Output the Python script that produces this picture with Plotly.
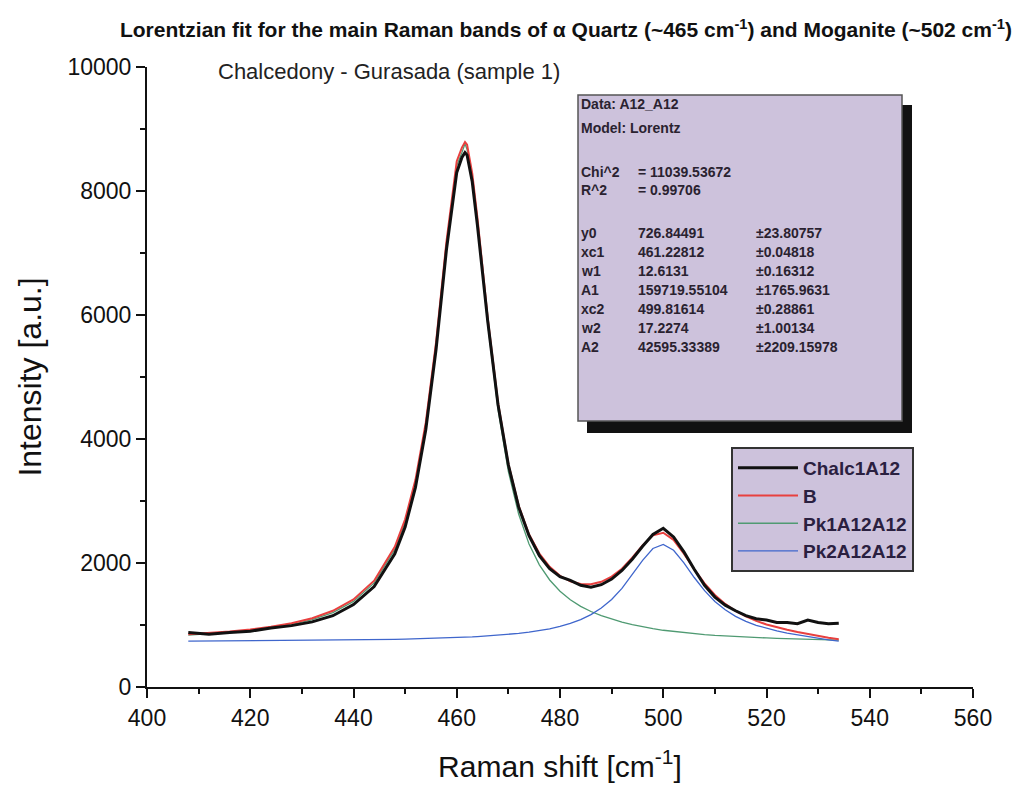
import plotly.graph_objects as go

# ---- data ----
raman_shift = [408, 412, 416, 420, 424, 428, 432, 436, 440, 444, 448, 450, 452, 454, 456, 458,
               460, 461, 461.6, 462, 463, 464, 466, 468, 470, 472, 474, 476, 478, 480, 482, 484, 486,
               488, 490, 492, 494, 496, 498, 500, 502, 504, 506, 508, 510, 512, 514, 516, 518,
               520, 522, 524, 526, 528, 530, 532, 534]

chalc1a12 = [880, 850, 880, 900, 950, 990, 1050, 1150, 1330, 1620, 2150, 2580, 3220, 4150, 5450, 7050,
             8300, 8540, 8620, 8580, 8150, 7450, 5900, 4550, 3580, 2900, 2440, 2120, 1910, 1780, 1720, 1640, 1610,
             1650, 1740, 1880, 2060, 2270, 2460, 2560, 2420, 2180, 1900, 1640, 1450, 1320, 1230, 1150, 1100,
             1080, 1040, 1040, 1020, 1080, 1040, 1020, 1030]

b_fit = [851, 872, 897, 929, 972, 1029, 1110, 1229, 1412, 1715, 2261, 2705, 3341, 4264, 5561, 7178,
         8480, 8700, 8790, 8746, 8282, 7570, 5951, 4580, 3595, 2922, 2464, 2152, 1938, 1794, 1705, 1661, 1658,
         1697, 1780, 1908, 2085, 2285, 2447, 2488, 2374, 2149, 1899, 1672, 1485, 1340, 1226, 1138, 1066,
         1009, 963, 922, 887, 852, 823, 794, 770]

pk1 = [838, 857, 881, 911, 952, 1007, 1085, 1201, 1380, 1679, 2219, 2660, 3292, 4210, 5503, 7114,
       8410, 8620, 8760, 8669, 8201, 7484, 5855, 4473, 3474, 2785, 2307, 1970, 1726, 1544, 1407, 1301, 1218,
       1151, 1096, 1045, 1005, 970, 940, 915, 895, 875, 860, 845, 832, 822, 813, 805, 798,
       791, 785, 779, 774, 769, 765, 761, 757]

pk2 = [740, 742, 743, 745, 747, 749, 752, 755, 759, 763, 769, 772, 776, 781, 785, 791,
       797, 801, 803, 804, 808, 813, 823, 834, 848, 864, 884, 909, 939, 977, 1025, 1087, 1167,
       1273, 1411, 1590, 1807, 2042, 2234, 2300, 2206, 2001, 1766, 1554, 1380, 1245, 1140, 1060, 995,
       945, 905, 870, 840, 810, 785, 760, 740]

x_ticks = [400, 420, 440, 460, 480, 500, 520, 540, 560]
y_ticks = [0, 2000, 4000, 6000, 8000, 10000]

stats_header = ["Data: A12_A12", "Model: Lorentz"]
stats_fit = [["Chi^2", "= 11039.53672"], ["R^2", "= 0.99706"]]
param_names = ["y0", "xc1", "w1", "A1", "xc2", "w2", "A2"]
param_values = ["726.84491", "461.22812", "12.6131", "159719.55104", "499.81614", "17.2274", "42595.33389"]
param_errors = ["±23.80757", "±0.04818", "±0.16312", "±1765.9631", "±0.28861", "±1.00134", "±2209.15978"]

# ---- layout geometry (pixels, in the reference picture) ----
W, H = 1027, 794
OFF = 8  # page body margin in the browser
L, R, T, B = 147, 973, 67, 687
FONT = "Liberation Sans, Arial, sans-serif"


def px(x):
    return (x - L) / (R - L)


def py(y):
    return (B - y) / (B - T)


fig = go.Figure()
fig.add_trace(go.Scatter(x=raman_shift, y=pk1, name="Pk1A12A12", mode="lines",
                         line=dict(color="#4f9a72", width=1.3), legendrank=3))
fig.add_trace(go.Scatter(x=raman_shift, y=pk2, name="Pk2A12A12", mode="lines",
                         line=dict(color="#3f66cc", width=1.3), legendrank=4))
fig.add_trace(go.Scatter(x=raman_shift, y=b_fit, name="B", mode="lines",
                         line=dict(color="#e8403f", width=2), legendrank=2))
fig.add_trace(go.Scatter(x=raman_shift, y=chalc1a12, name="Chalc1A12", mode="lines",
                         line=dict(color="#111111", width=3), legendrank=1))

shapes = [
    dict(type="rect", xref="paper", yref="paper", x0=px(587), x1=px(912), y0=py(433), y1=py(105),
         fillcolor="#111111", line=dict(width=0), layer="above"),
    dict(type="rect", xref="paper", yref="paper", x0=px(578), x1=px(902), y0=py(421), y1=py(95),
         fillcolor="#cdc2dc", line=dict(color="#555555", width=1.5), layer="above"),
]

annotations = []


def txt(x, y, s, size=14, bold=True, color="#2a2230", anchor="left"):
    annotations.append(dict(x=px(x), y=py(y), xref="paper", yref="paper", text=("<b>%s</b>" % s) if bold else s,
                            showarrow=False, xanchor=anchor, yanchor="middle",
                            font=dict(family=FONT, size=size, color=color)))


txt(579, 104, stats_header[0])
txt(579, 128, stats_header[1])
for i, (k, v) in enumerate(stats_fit):
    txt(579, 172 + i * 18, k)
    txt(636, 172 + i * 18, v)
for i in range(len(param_names)):
    yy = 233 + i * 19
    txt(579, yy, param_names[i])
    txt(636, yy, param_values[i])
    txt(754, yy, param_errors[i])

txt(216, 72, "Chalcedony - Gurasada (sample 1)", size=22, bold=False, color="#222222")

fig.update_layout(
    width=W, height=H,
    margin=dict(l=L - OFF, r=W - (R - OFF), t=T - OFF, b=H - (B - OFF)),
    paper_bgcolor="white", plot_bgcolor="white",
    font=dict(family=FONT, color="#111111"),
    title=dict(text="<b>Lorentzian fit for the main Raman bands of α Quartz (~465 cm<sup>-1</sup>) and Moganite (~502 cm<sup>-1</sup>)</b>",
               x=(566 - OFF) / W, xanchor="center", y=1 - (30 - OFF) / H, yanchor="middle",
               font=dict(family=FONT, size=21, color="#111111")),
    shapes=shapes,
    annotations=annotations,
    legend=dict(x=px(731), y=py(447), xanchor="left", yanchor="top",
                bgcolor="#cdc2dc", bordercolor="#333333", borderwidth=2,
                font=dict(family=FONT, size=19, color="#2a2040", weight="bold"),
                tracegroupgap=0, itemwidth=60),
    showlegend=True,
)

fig.update_xaxes(range=[400, 560], tickvals=x_ticks, ticktext=[str(v) for v in x_ticks],
                 showline=True, linecolor="#111111", linewidth=2,
                 ticks="outside", ticklen=9, tickwidth=2, tickcolor="#111111",
                 minor=dict(ticks="outside", ticklen=5, tickwidth=2, dtick=10, tickcolor="#111111", showgrid=False),
                 showgrid=False, zeroline=False,
                 tickfont=dict(family=FONT, size=23, color="#111111"),
                 title=dict(text="Raman shift [cm<sup>-1</sup>]", standoff=26,
                            font=dict(family=FONT, size=30, color="#111111")))
fig.update_yaxes(range=[0, 10000], tickvals=y_ticks, ticktext=[str(v) for v in y_ticks],
                 showline=True, linecolor="#111111", linewidth=2,
                 ticks="outside", ticklen=9, tickwidth=2, tickcolor="#111111",
                 minor=dict(ticks="outside", ticklen=5, tickwidth=2, dtick=1000, tickcolor="#111111", showgrid=False),
                 showgrid=False, zeroline=False,
                 tickfont=dict(family=FONT, size=23, color="#111111"),
                 title=dict(text="Intensity [a.u.]", standoff=16,
                            font=dict(family=FONT, size=32, color="#111111")))

fig.write_html("out.html")
